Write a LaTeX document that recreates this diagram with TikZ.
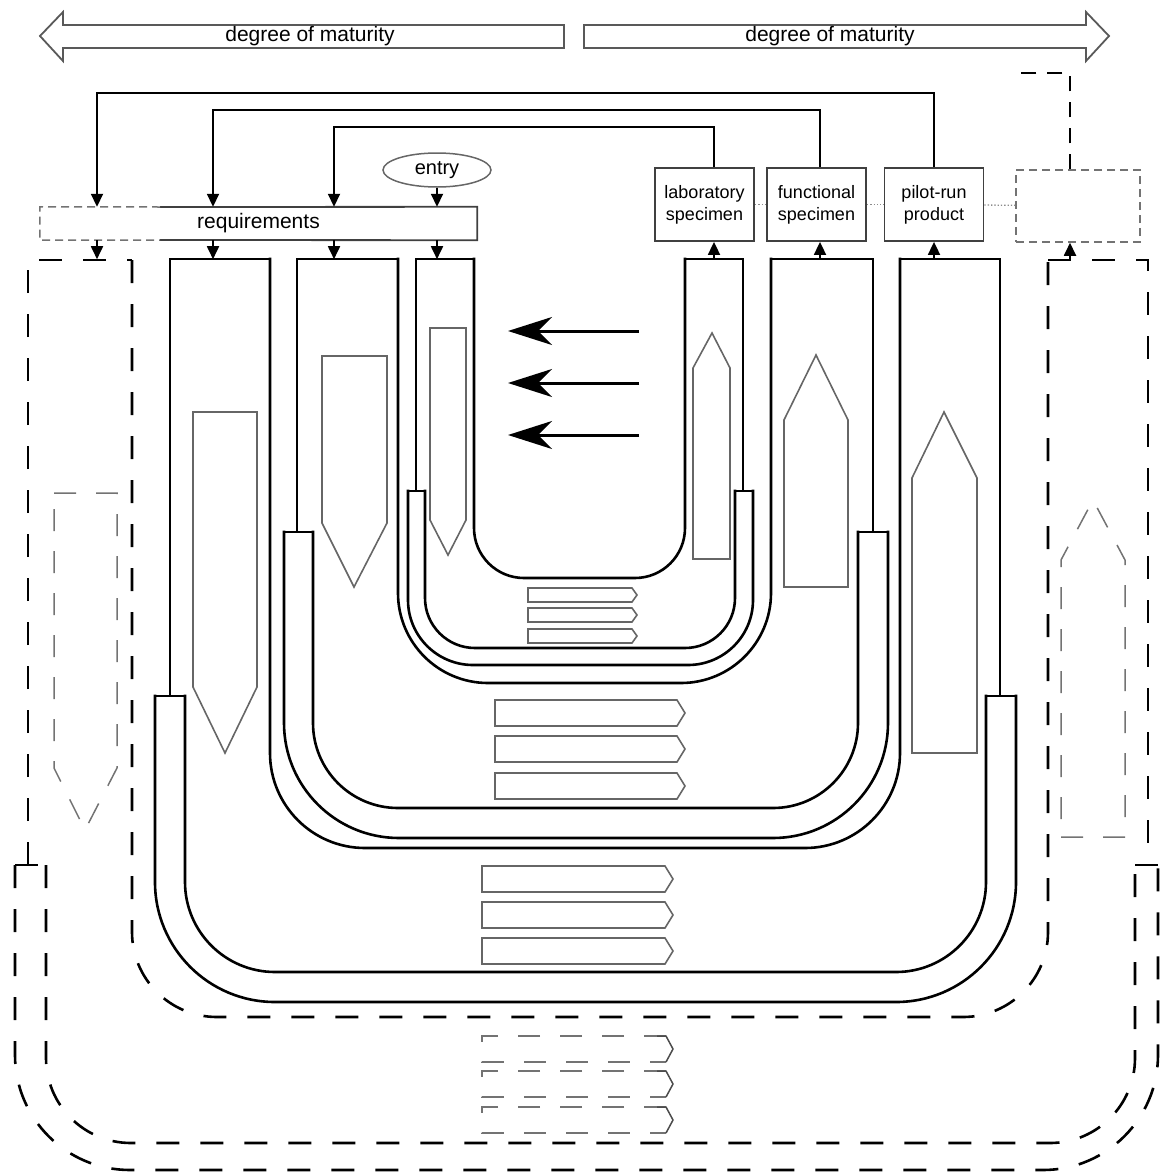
\documentclass[tikz,border=0pt]{standalone}
\usepackage{fontspec}
\setmainfont{Liberation Sans}
\usetikzlibrary{arrows.meta,shapes.geometric}

\begin{document}
\begin{tikzpicture}[x=1pt,y=-1pt,
  wall/.style={black, line width=2.6pt, line cap=rect},
  dwall/.style={black, line width=2.6pt, dash pattern=on 23pt off 21pt},
  wedge/.style={draw=black!60, line width=1.6pt},
  dwedge/.style={draw=black!55, line width=1.5pt, dash pattern=on 22pt off 20pt},
  maturity/.style={draw=black!65, line width=1.8pt},
  fb/.style={black, line width=1.8pt},
  tip/.style={-{Triangle[length=13pt,width=12pt]}},
  stage/.style={draw=black!75, line width=1.8pt, minimum width=99pt, minimum height=73pt, align=center, font=\fontsize{18}{22}\selectfont},
  olddash/.style={draw=black!55, line width=1.5pt, dash pattern=on 8pt off 5pt},
  flow/.style={line width=3pt, -{Stealth[length=44pt,width=28pt,inset=14pt]}}
]
\useasboundingbox (0,0) rectangle (1160,1173);

% degree of maturity
\draw[maturity] (564,25) -- (63,25) -- (63,12) -- (40,36) -- (63,61) -- (63,48) -- (564,48) -- cycle;
\draw[maturity] (584,25) -- (1086,25) -- (1086,12) -- (1109,36) -- (1086,61) -- (1086,48) -- (584,48) -- cycle;
\node[font=\fontsize{21}{24}\selectfont] (matl) at (310,36) {degree of maturity};
\node[font=\fontsize{21}{24}\selectfont] (matr) at (830,36) {degree of maturity};

% boxes
\node[minimum width=437pt, minimum height=33pt, font=\fontsize{21}{24}\selectfont] (req) at (258.5,223.5) {requirements};
\draw[black!75, line width=1.8pt] (160,207) -- (req.north east) -- (req.south east) -- (160,240);
\draw[olddash] (160,207) -- (req.north west) -- (req.south west) -- (160,240);
\node[draw=black!60, line width=1.5pt, ellipse, minimum width=108pt, minimum height=34pt, font=\fontsize{20}{24}\selectfont] (entry) at (437,170) {entry};
\node[stage] (lab) at (704.5,204.5) {laboratory\\specimen};
\node[stage] (func) at (816.5,204.5) {functional\\specimen};
\node[stage] (pilot) at (934,204.5) {pilot-run\\product};
\node[olddash, minimum width=124pt, minimum height=72pt] (future) at (1078,206) {};
\draw[black!45, line width=1.3pt, dotted] (lab) -- (func);
\draw[black!45, line width=1.3pt, dotted] (func) -- (pilot);
\draw[black!45, line width=1.3pt, dotted] (pilot) -- (future);

% feedback
\coordinate (f1) at (334,127);
\coordinate (f2) at (213,110);
\coordinate (f3) at (97,93);
\coordinate (fut) at (1012,73);
\draw[fb, tip] ([xshift=9.5pt]lab.north) |- (f1) -- (f1 |- req.north);
\draw[fb, tip] ([xshift=3.5pt]func.north) |- (f2) -- (f2 |- req.north);
\draw[fb, tip] (pilot.north) |- (f3) -- (f3 |- req.north);
\draw[fb, tip] (entry.south) -- (entry.south |- req.north);
\draw[black, line width=2.4pt, dash pattern=on 15pt off 11pt] ([xshift=-8pt]future.north) |- (fut);

\draw[fb, tip] (req.south -| f3) -- ++(0,19);
\draw[fb, tip] (req.south -| f2) -- ++(0,19);
\draw[fb, tip] (req.south -| f1) -- ++(0,19);
\draw[fb, tip] (req.south -| entry.south) -- ++(0,19);
\draw[fb, tip] ([shift={(9.5,18)}]lab.south) -- ([xshift=9.5pt]lab.south);
\draw[fb, tip] ([shift={(3.5,18)}]func.south) -- ([xshift=3.5pt]func.south);
\draw[fb, tip] ([shift={(0,18)}]pilot.south) -- (pilot.south);
\draw[fb, tip] ([shift={(-8,18)}]future.south) -- ([xshift=-8pt]future.south);

% level 1
\draw[wall] (416,491) -- (416,259) -- (474,259);
\draw[wall, rounded corners=50pt] (474,259) -- (474,578) -- (685,578) -- (685,259);
\draw[wall] (685,259) -- (743,259) -- (743,491);
\draw[wall] (408,491) -- (425,491);
\draw[wall] (735,491) -- (753,491);
\draw[wall, rounded corners=50pt] (425,491) -- (425,648) -- (735,648) -- (735,491);
\draw[wall, rounded corners=65pt] (408,491) -- (408,665) -- (753,665) -- (753,491);

% level 2
\draw[wall] (297,532) -- (297,259) -- (398,259);
\draw[wall, rounded corners=90pt] (398,259) -- (398,683) -- (771,683) -- (771,259);
\draw[wall] (771,259) -- (873,259) -- (873,532);
\draw[wall] (284,532) -- (313,532);
\draw[wall] (858,532) -- (888,532);
\draw[wall, rounded corners=85pt] (313,532) -- (313,808) -- (858,808) -- (858,532);
\draw[wall, rounded corners=115pt] (284,532) -- (284,838) -- (888,838) -- (888,532);

% level 3
\draw[wall] (170,696) -- (170,259) -- (270,259);
\draw[wall, rounded corners=95pt] (270,259) -- (270,848) -- (900,848) -- (900,259);
\draw[wall] (900,259) -- (1000,259) -- (1000,696);
\draw[wall] (155,696) -- (185,696);
\draw[wall] (986,696) -- (1016,696);
\draw[wall, rounded corners=90pt] (185,696) -- (185,972) -- (986,972) -- (986,696);
\draw[wall, rounded corners=120pt] (155,696) -- (155,1002) -- (1016,1002) -- (1016,696);

% level 4
\draw[dwall] (28,865) -- (28,260) -- (132,260);
\draw[dwall, rounded corners=85pt] (132,260) -- (132,1017) -- (1048,1017) -- (1048,260);
\draw[dwall] (1048,260) -- (1148,260) -- (1148,865);
\draw[dwall] (15,865) -- (46,865);
\draw[dwall] (1135,865) -- (1158,865);
\draw[dwall, rounded corners=85pt] (46,865) -- (46,1143) -- (1135,1143) -- (1135,865);
\draw[dwall, rounded corners=115pt] (15,865) -- (15,1170) -- (1158,1170) -- (1158,865);

% arms
\draw[wedge] (430,328) -- (466,328) -- (466,520) -- (448,555) -- (430,520) -- cycle;
\draw[wedge] (693,559) -- (730,559) -- (730,368) -- (712,333) -- (693,368) -- cycle;
\draw[wedge] (322,356) -- (387,356) -- (387,523) -- (354,587) -- (322,523) -- cycle;
\draw[wedge] (784,587) -- (848,587) -- (848,420) -- (816,355) -- (784,420) -- cycle;
\draw[wedge] (193,412) -- (257,412) -- (257,687) -- (225,753) -- (193,687) -- cycle;
\draw[wedge] (912,753) -- (977,753) -- (977,478) -- (944,412) -- (912,478) -- cycle;
\draw[dwedge] (54,493) -- (117,493) -- (117,768) -- (85,830) -- (54,768) -- cycle;
\draw[dwedge] (1061,837) -- (1125,837) -- (1125,560) -- (1093,500) -- (1061,560) -- cycle;

% integration
\foreach \y in {588,608,629}
  \draw[wedge] (528,\y) -- (632,\y) -- (637,\y+7) -- (632,\y+14) -- (528,\y+14) -- cycle;
\foreach \y in {700,736,773}
  \draw[wedge] (495,\y) -- (677,\y) -- (685,\y+13) -- (677,\y+26) -- (495,\y+26) -- cycle;
\foreach \y in {866,902,938}
  \draw[wedge] (482,\y) -- (665,\y) -- (673,\y+13) -- (665,\y+26) -- (482,\y+26) -- cycle;
\foreach \y in {1036,1071,1107} {
  \draw[dwedge] (666,\y) -- (482,\y) -- (482,\y+26) -- (666,\y+26);
  \draw[black!70, line width=1.5pt] (657,\y) -- (666,\y) -- (673,\y+13) -- (666,\y+26);
}

% iteration
\draw[flow] (639,331) -- (508,331);
\draw[flow] (639,383) -- (508,383);
\draw[flow] (639,435) -- (508,435);
\end{tikzpicture}
\end{document}
